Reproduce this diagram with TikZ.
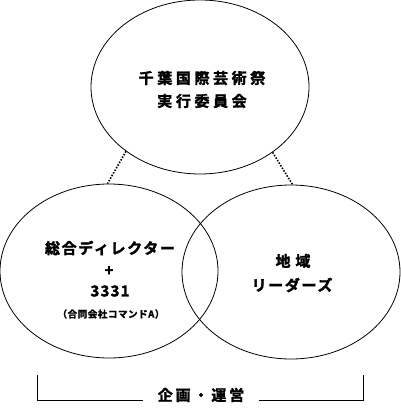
\documentclass[tikz,border=0pt]{standalone}
\usepackage{fontspec}
\usetikzlibrary{shapes.geometric}
\newfontfamily\jpfont{Noto Sans CJK JP Bold}[FakeBold=2]
\newcommand\ovalwidth{218pt}
\newcommand\ovalheight{174pt}
\newcommand\spaced[1]{\fontsize{15}{23}\jpfont\addfontfeature{LetterSpace=#1}}
\tikzstyle{oval} = [ellipse, minimum width=\ovalwidth, minimum height=\ovalheight, inner sep=0pt, draw=black, line width=0.8pt]
\tikzstyle{caption} = [align=center, inner sep=0pt, text=black]
\tikzstyle{link} = [line width=1.6pt, dash pattern=on 1.5pt off 1.5pt]
\tikzstyle{bracket} = [line width=0.8pt]

\begin{document}
\begin{tikzpicture}[x=1pt, y=-1pt]
    \useasboundingbox (0,0) rectangle (400,414);

    \node (committee) [oval] at (200,87) {};
    \node (director) [oval] at (109,271) {};
    \node (region) [oval] at (291,272) {};

    \node (committeetext) [caption, font=\spaced{24}] at (202,89.5) {千葉国際芸術祭\\実行委員会};
    \node (directortext) [caption, font=\spaced{11}] at (110,248) {総合ディレクター};
    \node (plus) [caption, font=\spaced{0}] at (109,271) {+};
    \node (number) [caption, font=\spaced{8}] at (110,291) {3331};
    \node (company) [caption, font={\fontsize{9.5}{11}\jpfont\addfontfeature{LetterSpace=6}}] at (111,314) {（合同会社コマンドA）};
    \node (regiontext) [caption, font=\spaced{32}] at (293,261) {地域};
    \node (leaders) [caption, font=\spaced{11}] at (292,285) {リーダーズ};

    \draw [link] (committee.221) -- (director.91);
    \draw [link] (committee.318) -- (region.89);

    % bracket under the ovals
    \coordinate (bracketleft) at (37,375);
    \coordinate (bracketright) at (363,375);
    \node (planning) [caption, inner xsep=15pt, font=\spaced{19}] at (201,395) {企画・運営};
    \draw [bracket] (bracketleft) |- ([yshift=-5pt]planning.west);
    \draw [bracket] (bracketright) |- ([yshift=-5pt]planning.east);

\end{tikzpicture}
\end{document}
